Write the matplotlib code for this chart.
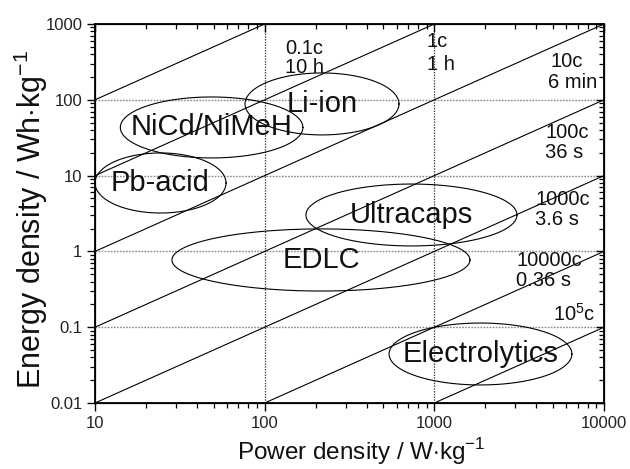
import numpy as np
import matplotlib
matplotlib.use("Agg")
import matplotlib.pyplot as plt

plt.rcParams['font.family'] = ['Liberation Sans', 'DejaVu Sans']
plt.rcParams['mathtext.fontset'] = 'custom'
plt.rcParams['mathtext.rm'] = 'Liberation Sans'

# Storage technologies: power range (W/kg) and energy range (Wh/kg)
technologies = ["Li-ion", "NiCd/NiMeH", "Pb-acid", "Ultracaps", "EDLC", "Electrolytics"]
power_min = [76.6, 14.1, 10.0, 175, 28.4, 541]
power_max = [619, 168, 59.2, 3070, 1622, 6470]
energy_min = [34.4, 17.1, 3.21, 1.18, 0.30, 0.0173]
energy_max = [226, 109, 19.9, 7.74, 1.98, 0.1135]

# Discharge time lines E = P * t (t in hours)
discharge_hours = [10, 1, 0.1, 0.01, 1e-3, 1e-4, 1e-5]

# C-rate / time labels: text, power, energy
rate_labels = ["0.1c", "10 h", "1c", "1 h", "10c", "6 min", "100c", "36 s",
               "1000c", "3.6 s", "10000c", "0.36 s", r"10$^{\mathregular{5}}$c"]
rate_label_p = [132, 132, 905, 905, 4806, 4677, 4550, 4490, 3970, 3920, 3070, 3030, 5000]
rate_label_e = [482, 263, 579, 288, 316, 167, 37.6, 19.9, 4.91, 2.60, 0.77, 0.407, 0.149]

x_ticks = [10, 100, 1000, 10000]
x_ticklabels = ["10", "100", "1000", "10000"]
y_ticks = [0.01, 0.1, 1, 10, 100, 1000]
y_ticklabels = ["0.01", "0.1", "1", "10", "100", "1000"]

fig = plt.figure(figsize=(6.3, 4.69), dpi=100)
ax = fig.add_axes([95 / 630, 66 / 469, 509 / 630, 379 / 469])
ax.set_xscale('log')
ax.set_yscale('log')
ax.set_xlim(10, 10000)
ax.set_ylim(0.01, 1000)

# dotted grid at decades
for yv in [0.1, 1, 10, 100]:
    ax.axhline(yv, color='#888888', lw=1.0, ls=(0, (1.2, 1.0)), zorder=1)
for xv in [100, 1000]:
    ax.axvline(xv, color='#444444', lw=0.9, ls=(0, (1.2, 1.0)), zorder=1)

# constant discharge-time lines
p_line = np.array([10.0, 10000.0])
for t in discharge_hours:
    ax.plot(p_line, p_line * t, color='black', lw=0.8, zorder=2)

# technology ellipses, drawn in log space
theta = np.linspace(0, 2 * np.pi, 400)
for name, p0, p1, e0, e1 in zip(technologies, power_min, power_max, energy_min, energy_max):
    cx = (np.log10(p0) + np.log10(p1)) / 2
    rx = (np.log10(p1) - np.log10(p0)) / 2
    cy = (np.log10(e0) + np.log10(e1)) / 2
    ry = (np.log10(e1) - np.log10(e0)) / 2
    ax.plot(10 ** (cx + rx * np.cos(theta)), 10 ** (cy + ry * np.sin(theta)),
            color='black', lw=0.8, zorder=3, clip_on=False)
    ax.text(10 ** cx, 10 ** cy, name, fontsize=21, ha='center', va='center',
            color='#111111', zorder=4)

for txt, p, e in zip(rate_labels, rate_label_p, rate_label_e):
    ax.text(p, e, txt, fontsize=14.5, ha='left', va='center', color='#111111', zorder=4)

ax.set_xticks(x_ticks)
ax.set_xticklabels(x_ticklabels)
ax.set_yticks(y_ticks)
ax.set_yticklabels(y_ticklabels)
ax.tick_params(which='major', direction='out', length=6, width=1.0, labelsize=12,
               labelcolor='#222222', pad=3)
ax.tick_params(which='minor', direction='out', length=3.5, width=0.9)
ax.tick_params(axis='x', which='both', top=False)
ax.tick_params(axis='y', which='both', right=False)
for s in ax.spines.values():
    s.set_linewidth(1.3)

# mirrored inward ticks on the top and right
axt = ax.twiny()
axt.set_xscale('log')
axt.set_xlim(10, 10000)
axt.set_xticks(x_ticks)
axt.tick_params(which='major', direction='in', length=6, width=1.0, labeltop=False)
axt.tick_params(which='minor', direction='in', length=3.5, width=0.9)
axr = ax.twinx()
axr.set_yscale('log')
axr.set_ylim(0.01, 1000)
axr.set_yticks(y_ticks)
axr.tick_params(which='major', direction='in', length=6, width=1.0, labelright=False)
axr.tick_params(which='minor', direction='in', length=3.5, width=0.9)
for a in (axt, axr):
    a.xaxis.set_tick_params(labeltop=False, labelbottom=False)
    a.yaxis.set_tick_params(labelleft=False, labelright=False)

ax.set_xlabel(r"Power density / W$\cdot$kg$^{\mathregular{-1}}$", fontsize=17.5, labelpad=4,
              color='#111111')
ax.xaxis.label.set_x(0.5236)
ax.set_ylabel(r"Energy density / Wh$\cdot$kg$^{\mathregular{-1}}$", fontsize=22, labelpad=-3,
              color='#111111')
ax.yaxis.label.set_y(0.4855)

fig.savefig("out.png", dpi=100)
